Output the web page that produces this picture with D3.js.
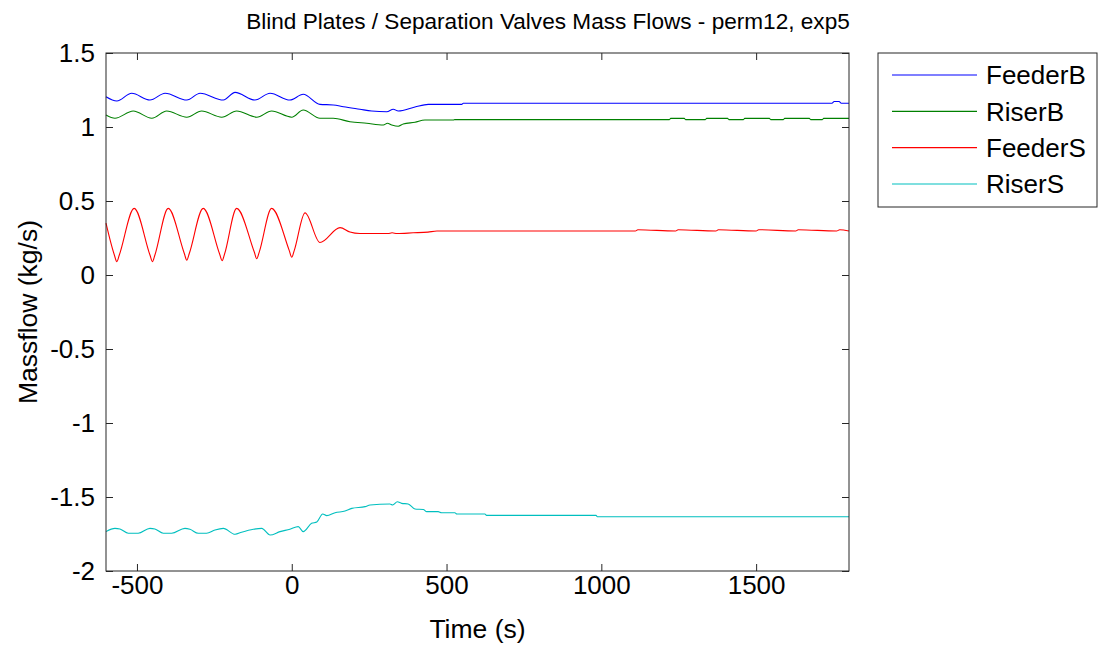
<!DOCTYPE html>
<html>
<head>
<meta charset="utf-8">
<script src="https://cdn.jsdelivr.net/npm/d3@7"></script>
<style>
  html, body { margin: 0; padding: 0; background: #fff; }
  svg { display: block; font-family: "Liberation Sans", Arial, Helvetica, sans-serif; }
</style>
</head>
<body>
<svg id="chart" width="1099" height="648"></svg>
<script>
// Mass flow traces (time in s, mass flow in kg/s)
const feederBTime = [-600, -565, -517, -458, -409, -339, -296, -221, -183, -119, -70, -6, 37, 91, 134, 167, 220, 258, 307, 328, 344, 398, 441, 549, 554, 1745, 1752, 1768, 1775, 1800];
const feederBFlow = [1.205, 1.176, 1.228, 1.182, 1.228, 1.182, 1.228, 1.182, 1.234, 1.182, 1.228, 1.182, 1.221, 1.153, 1.149, 1.137, 1.12, 1.108, 1.103, 1.12, 1.108, 1.135, 1.153, 1.153, 1.16, 1.16, 1.172, 1.172, 1.16, 1.16];

const riserBTime = [-600, -571, -512, -452, -404, -339, -291, -226, -178, -113, -65, 0, 37, 91, 134, 188, 242, 296, 309, 323, 344, 360, 398, 430, 522, 527, 1220, 1224, 1268, 1272, 1336, 1340, 1408, 1412, 1459, 1463, 1543, 1547, 1588, 1592, 1672, 1676, 1714, 1718, 1800];
const riserBFlow = [1.081, 1.059, 1.108, 1.059, 1.108, 1.066, 1.108, 1.066, 1.108, 1.066, 1.108, 1.066, 1.115, 1.059, 1.059, 1.036, 1.025, 1.014, 1.025, 1.014, 1.005, 1.02, 1.032, 1.047, 1.047, 1.05, 1.05, 1.058, 1.058, 1.05, 1.05, 1.058, 1.058, 1.05, 1.05, 1.058, 1.058, 1.05, 1.05, 1.058, 1.058, 1.05, 1.05, 1.058, 1.058];

const feederSTime = [-600, -573, -565, -557, -509, -458, -450, -442, -399, -347, -339, -331, -286, -233, -225, -217, -178, -121, -113, -105, -65, -8, 0, 8, 43, 91, 156, 188, 220, 311, 324, 340, 392, 440, 469, 1110, 1118, 1240, 1248, 1370, 1378, 1500, 1508, 1628, 1636, 1760, 1770, 1800];
const feederSFlow = [0.35, 0.135, 0.09, 0.135, 0.45, 0.135, 0.09, 0.135, 0.45, 0.145, 0.10, 0.145, 0.45, 0.142, 0.097, 0.142, 0.45, 0.155, 0.11, 0.155, 0.45, 0.165, 0.12, 0.165, 0.42, 0.22, 0.32, 0.29, 0.28, 0.28, 0.285, 0.28, 0.285, 0.29, 0.297, 0.297, 0.306, 0.297, 0.306, 0.297, 0.306, 0.297, 0.306, 0.297, 0.306, 0.297, 0.306, 0.297];

const riserSTime = [-600, -571, -555, -528, -496, -458, -442, -415, -388, -345, -329, -302, -275, -248, -221, -183, -162, -124, -97, -70, -38, -6, 21, 37, 64, 81, 100, 113, 140, 172, 194, 237, 253, 317, 326, 341, 355, 376, 398, 425, 436, 473, 484, 527, 533, 624, 629, 983, 987, 1800];
const riserSFlow = [-1.734, -1.712, -1.716, -1.745, -1.745, -1.712, -1.716, -1.745, -1.745, -1.712, -1.718, -1.745, -1.745, -1.723, -1.712, -1.752, -1.738, -1.718, -1.712, -1.757, -1.734, -1.718, -1.70, -1.734, -1.678, -1.669, -1.615, -1.626, -1.606, -1.595, -1.577, -1.565, -1.554, -1.547, -1.554, -1.532, -1.543, -1.547, -1.581, -1.584, -1.599, -1.599, -1.606, -1.606, -1.615, -1.615, -1.624, -1.624, -1.633, -1.633];

const seriesNames = ["FeederB", "RiserB", "FeederS", "RiserS"];
const seriesColors = ["#0000ff", "#008000", "#ff0000", "#00bfbf"];
const seriesTimes = [feederBTime, riserBTime, feederSTime, riserSTime];
const seriesFlows = [feederBFlow, riserBFlow, feederSFlow, riserSFlow];

const xTicks = [-500, 0, 500, 1000, 1500];
const yTicks = [-2, -1.5, -1, -0.5, 0, 0.5, 1, 1.5];
const xDomain = [-600, 1800];
const yDomain = [-2, 1.5];

const titleText = "Blind Plates / Separation Valves Mass Flows - perm12, exp5";
const xLabelText = "Time (s)";
const yLabelText = "Massflow (kg/s)";

// ---- layout ----
const plot = { left: 106, right: 849, top: 53, bottom: 571 };
const axisColor = "#262626";
const tickFont = 26;

const svg = d3.select("#chart");

const x = d3.scaleLinear().domain(xDomain).range([plot.left, plot.right]);
const y = d3.scaleLinear().domain(yDomain).range([plot.bottom, plot.top]);

svg.append("rect")
  .attr("x", plot.left).attr("y", plot.top)
  .attr("width", plot.right - plot.left).attr("height", plot.bottom - plot.top)
  .attr("fill", "#fff");

// data lines
const line = d3.line()
  .x(d => x(d[0]))
  .y(d => y(d[1]))
  .curve(d3.curveMonotoneX);

const lineGroup = svg.append("g");
seriesNames.forEach((name, i) => {
  const pts = seriesTimes[i].map((t, j) => [t, seriesFlows[i][j]]);
  lineGroup.append("path")
    .datum(pts)
    .attr("d", line)
    .attr("fill", "none")
    .attr("stroke", seriesColors[i])
    .attr("stroke-width", 1.1);
});

// axes with inward ticks on all four sides
function styleAxis(g) {
  g.select(".domain").remove();
  g.selectAll(".tick line").attr("stroke", axisColor).attr("stroke-width", 1);
  g.selectAll(".tick text")
    .attr("fill", "#000")
    .style("font-size", tickFont + "px")
    .style("font-family", "'Liberation Sans', Arial, sans-serif");
}

const numFmt = d => String(d);

svg.append("g")
  .attr("transform", `translate(0,${plot.bottom})`)
  .call(d3.axisBottom(x).tickValues(xTicks).tickFormat(numFmt).tickSize(-7).tickPadding(5))
  .call(styleAxis);

svg.append("g")
  .attr("transform", `translate(0,${plot.top})`)
  .call(d3.axisTop(x).tickValues(xTicks).tickFormat("").tickSize(-7))
  .call(styleAxis);

svg.append("g")
  .attr("transform", `translate(${plot.left},0)`)
  .call(d3.axisLeft(y).tickValues(yTicks).tickFormat(numFmt).tickSize(-7).tickPadding(11))
  .call(styleAxis);

svg.append("g")
  .attr("transform", `translate(${plot.right},0)`)
  .call(d3.axisRight(y).tickValues(yTicks).tickFormat("").tickSize(-7))
  .call(styleAxis);

svg.append("rect")
  .attr("x", plot.left).attr("y", plot.top)
  .attr("width", plot.right - plot.left).attr("height", plot.bottom - plot.top)
  .attr("fill", "none")
  .attr("stroke", axisColor)
  .attr("stroke-width", 1);

// title and axis labels
svg.append("text")
  .attr("x", 548)
  .attr("y", 29)
  .attr("text-anchor", "middle")
  .style("font-size", "22.6px")
  .text(titleText);

svg.append("text")
  .attr("x", (plot.left + plot.right) / 2)
  .attr("y", 638)
  .attr("text-anchor", "middle")
  .style("font-size", "26.5px")
  .text(xLabelText);

svg.append("text")
  .attr("transform", `translate(37,${(plot.top + plot.bottom) / 2}) rotate(-90)`)
  .attr("text-anchor", "middle")
  .style("font-size", "26.5px")
  .text(yLabelText);

// legend
const legend = svg.append("g");
legend.append("rect")
  .attr("x", 878).attr("y", 53)
  .attr("width", 219).attr("height", 154)
  .attr("fill", "#fff")
  .attr("stroke", axisColor)
  .attr("stroke-width", 1);

const legendRowY = d3.scalePoint().domain(seriesNames).range([75, 184]);
seriesNames.forEach((name, i) => {
  const cy = legendRowY(name);
  legend.append("line")
    .attr("x1", 892).attr("x2", 977)
    .attr("y1", cy).attr("y2", cy)
    .attr("stroke", seriesColors[i])
    .attr("stroke-width", 1.1);
  legend.append("text")
    .attr("x", 986).attr("y", cy)
    .attr("dy", "0.36em")
    .style("font-size", "26px")
    .text(name);
});
</script>
</body>
</html>
